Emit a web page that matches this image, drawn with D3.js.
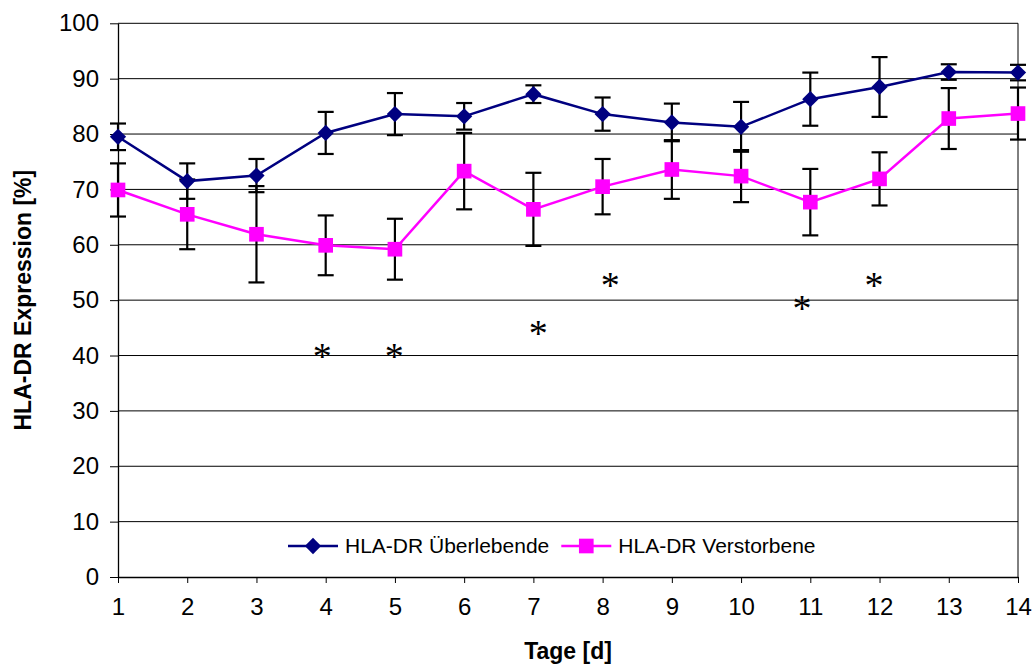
<!DOCTYPE html>
<html>
<head>
<meta charset="utf-8">
<script src="https://cdn.jsdelivr.net/npm/d3@7"></script>
<style>
  html, body { margin: 0; padding: 0; background: #fff; }
  svg { display: block; font-family: Arial, "Liberation Sans", sans-serif; }
</style>
</head>
<body>
<svg id="chart" width="1035" height="668"></svg>
<script>
// ---- data ----
const days = [1, 2, 3, 4, 5, 6, 7, 8, 9, 10, 11, 12, 13, 14];
const survivorsMean = [79.5, 71.5, 72.5, 80.2, 83.6, 83.2, 87.2, 83.6, 82.1, 81.3, 86.3, 88.5, 91.2, 91.1];
const survivorsErr  = [2.4, 3.2, 3.0, 3.8, 3.8, 2.4, 1.6, 3.0, 3.4, 4.5, 4.8, 5.4, 1.4, 1.4];
const deceasedMean  = [69.9, 65.5, 61.9, 59.9, 59.2, 73.3, 66.4, 70.5, 73.6, 72.4, 67.7, 71.9, 82.8, 83.7];
const deceasedErr   = [4.8, 6.3, 8.7, 5.4, 5.5, 6.9, 6.6, 5.0, 5.3, 4.7, 6.0, 4.8, 5.5, 4.7];
const yTicks = [0, 10, 20, 30, 40, 50, 60, 70, 80, 90, 100];
const seriesNames = ["HLA-DR Überlebende", "HLA-DR Verstorbene"];
const asteriskDays   = [3.95, 4.99, 7.07, 8.11, 10.88, 11.92];
const asteriskValues = [41.0, 41.0, 45.2, 53.9, 49.7, 53.9];
const xTitle = "Tage [d]";
const yTitle = "HLA-DR Expression [%]";

// ---- layout ----
const svg = d3.select("#chart");
const L = 118, R = 1018, T = 23.3, B = 577;
const x = d3.scaleLinear().domain([1, 14]).range([L, R]);
const y = d3.scaleLinear().domain([0, 100]).range([B, T]);

const navy = "#000080", magenta = "#FF00FF";

// gridlines
svg.append("g").selectAll("line").data(yTicks.filter(d => d > 0 && d < 100)).join("line")
  .attr("x1", L).attr("x2", R).attr("y1", d => y(d)).attr("y2", d => y(d))
  .attr("stroke", "#000").attr("stroke-width", 1);

// plot border (top & right)
svg.append("line").attr("x1", L).attr("x2", R).attr("y1", y(100)).attr("y2", y(100)).attr("stroke", "#000");
svg.append("line").attr("x1", R).attr("x2", R).attr("y1", y(100)).attr("y2", y(0)).attr("stroke", "#000");

// axes
const xAxis = svg.append("g").attr("transform", `translate(0,${B})`)
  .call(d3.axisBottom(x).tickValues(days).tickFormat(d3.format("d")).tickSize(6).tickSizeOuter(0).tickPadding(15));
const yAxis = svg.append("g").attr("transform", `translate(${L},0)`)
  .call(d3.axisLeft(y).tickValues(yTicks).tickSize(8).tickSizeOuter(0).tickPadding(11));
[xAxis, yAxis].forEach(a => {
  a.selectAll("path").attr("stroke", "#000").attr("stroke-width", 1.3);
  a.selectAll("line").attr("stroke", "#000");
  a.selectAll("text").attr("font-size", 24).attr("fill", "#000").attr("font-family", "Arial, 'Liberation Sans', sans-serif");
});

// error bars
function errorBars(means, errs) {
  const g = svg.append("g").attr("stroke", "#000").attr("stroke-width", 2.2);
  days.forEach((d, i) => {
    const cx = x(d), lo = y(means[i] - errs[i]), hi = y(means[i] + errs[i]);
    g.append("line").attr("x1", cx).attr("x2", cx).attr("y1", lo).attr("y2", hi);
    g.append("line").attr("x1", cx - 8).attr("x2", cx + 8).attr("y1", lo).attr("y2", lo);
    g.append("line").attr("x1", cx - 8).attr("x2", cx + 8).attr("y1", hi).attr("y2", hi);
  });
}
errorBars(survivorsMean, survivorsErr);
errorBars(deceasedMean, deceasedErr);

const line = d3.line().x((d, i) => x(days[i])).y(d => y(d));
function series(means, color, symType, size) {
  svg.append("path").datum(means).attr("d", line).attr("fill", "none")
    .attr("stroke", color).attr("stroke-width", 2.5);
  svg.append("g").selectAll("path").data(means).join("path")
    .attr("transform", (d, i) => `translate(${x(days[i])},${y(d)})`)
    .attr("d", d3.symbol().type(symType).size(size))
    .attr("fill", color);
}
const diamond = {
  draw(ctx, size) { const r = Math.sqrt(size) / 2 * 1.15; ctx.moveTo(0, -r); ctx.lineTo(r, 0); ctx.lineTo(0, r); ctx.lineTo(-r, 0); ctx.closePath(); }
};
series(survivorsMean, navy, diamond, 200);
series(deceasedMean, magenta, d3.symbolSquare, 215);

// asterisks
const astFs = 38;
svg.append("g").selectAll("text").data(asteriskDays).join("text")
  .attr("x", d => x(d))
  .attr("y", (d, i) => y(asteriskValues[i]) + astFs * 0.5)
  .attr("text-anchor", "middle")
  .attr("font-family", "'Liberation Serif', 'Times New Roman', serif")
  .attr("font-size", astFs)
  .text("*");

// legend
const legY = 546;
const legend = svg.append("g");
let lx = 288;
[[navy, diamond, 200], [magenta, d3.symbolSquare, 215]].forEach((s, i) => {
  legend.append("line").attr("x1", lx).attr("x2", lx + 50).attr("y1", legY).attr("y2", legY)
    .attr("stroke", s[0]).attr("stroke-width", 2.5);
  legend.append("path").attr("transform", `translate(${lx + 25},${legY})`)
    .attr("d", d3.symbol().type(s[1]).size(s[2])).attr("fill", s[0]);
  const t = legend.append("text").attr("x", lx + 57).attr("y", legY).attr("dy", "0.35em")
    .attr("font-size", 21).text(seriesNames[i]);
  lx = lx + 57 + t.node().getComputedTextLength() + 12;
});

// axis titles
svg.append("text").attr("x", (L + R) / 2).attr("y", 659).attr("text-anchor", "middle")
  .attr("font-weight", "bold").attr("font-size", 23).text(xTitle);
svg.append("text").attr("transform", `translate(31,${(T + B) / 2}) rotate(-90)`)
  .attr("text-anchor", "middle").attr("font-weight", "bold").attr("font-size", 23).text(yTitle);
</script>
</body>
</html>
